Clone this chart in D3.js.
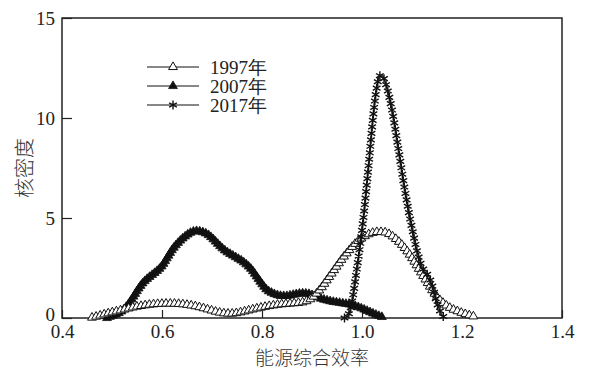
<!DOCTYPE html>
<html>
<head>
<meta charset="utf-8">
<script src="https://cdn.jsdelivr.net/npm/d3@7/dist/d3.min.js"></script>
<style>
  body { margin: 0; background: #fff; }
  svg { display: block; }
</style>
</head>
<body>
<div id="chart"></div>
<script>
// series data (kernel density of energy efficiency)
const x1997 = [0.46,0.47,0.48,0.49,0.50,0.51,0.52,0.53,0.54,0.55,0.56,0.57,0.58,0.59,0.60,0.61,0.62,0.63,0.64,0.65,0.66,0.67,0.68,0.69,0.70,0.71,0.72,0.73,0.74,0.75,0.76,0.77,0.78,0.79,0.80,0.81,0.82,0.83,0.84,0.85,0.86,0.87,0.88,0.89,0.90,0.91,0.92,0.93,0.94,0.95,0.96,0.97,0.98,0.99,1.00,1.01,1.02,1.03,1.04,1.05,1.06,1.07,1.08,1.09,1.10,1.11,1.12,1.13,1.14,1.15,1.16,1.17,1.18,1.19,1.20,1.21,1.22,1.23];
const y1997 = [0.02,0.08,0.15,0.22,0.28,0.34,0.40,0.46,0.52,0.57,0.61,0.65,0.68,0.70,0.71,0.72,0.72,0.71,0.69,0.66,0.62,0.57,0.51,0.44,0.37,0.30,0.25,0.22,0.22,0.25,0.30,0.36,0.42,0.48,0.53,0.58,0.62,0.66,0.69,0.71,0.73,0.75,0.78,0.85,1.00,1.25,1.55,1.90,2.25,2.60,2.95,3.25,3.55,3.80,4.00,4.15,4.25,4.30,4.30,4.25,4.10,3.90,3.65,3.35,3.00,2.60,2.20,1.80,1.40,1.05,0.80,0.60,0.45,0.35,0.25,0.17,0.10,0.04];

const x2007 = [0.49,0.50,0.51,0.52,0.53,0.54,0.55,0.56,0.57,0.58,0.59,0.60,0.61,0.62,0.63,0.64,0.65,0.66,0.67,0.68,0.69,0.70,0.71,0.72,0.73,0.74,0.75,0.76,0.77,0.78,0.79,0.80,0.81,0.82,0.83,0.84,0.85,0.86,0.87,0.88,0.89,0.90,0.91,0.92,0.93,0.94,0.95,0.96,0.97,0.98,0.99,1.00,1.01,1.02,1.03,1.04];
const y2007 = [0.00,0.10,0.20,0.35,0.60,0.95,1.35,1.70,1.95,2.15,2.35,2.60,3.00,3.40,3.70,3.95,4.15,4.30,4.35,4.30,4.20,4.00,3.75,3.50,3.30,3.15,3.00,2.85,2.65,2.40,2.05,1.70,1.40,1.25,1.15,1.10,1.10,1.15,1.20,1.23,1.22,1.15,1.05,0.95,0.88,0.82,0.78,0.74,0.70,0.65,0.57,0.47,0.36,0.25,0.14,0.05];

const x2017 = [0.965,0.970,0.975,0.980,0.985,0.990,0.995,1.000,1.005,1.010,1.015,1.020,1.025,1.030,1.035,1.040,1.045,1.050,1.055,1.060,1.065,1.070,1.075,1.080,1.085,1.090,1.095,1.100,1.105,1.110,1.115,1.120,1.125,1.130,1.135,1.140,1.145,1.150,1.155,1.160,1.165];
const y2017 = [0.00,0.05,0.30,0.80,1.60,2.50,3.40,4.40,5.50,6.80,8.10,9.50,10.70,11.60,12.10,12.15,11.90,11.50,11.00,10.40,9.70,8.90,8.10,7.30,6.50,5.80,5.10,4.50,3.90,3.35,2.90,2.55,2.35,2.20,2.00,1.65,1.20,0.75,0.40,0.15,0.02];

const seriesNames = ["1997年", "2007年", "2017年"];
const xTicks = [0.4, 0.6, 0.8, 1.0, 1.2, 1.4];
const yTicks = [0, 5, 10, 15];

const W = 589, H = 370;
const margin = {top: 18, right: 27, bottom: 52, left: 62};
const width = W - margin.left - margin.right;
const height = H - margin.top - margin.bottom;

const svg = d3.select("#chart").append("svg")
    .attr("width", W)
    .attr("height", H);

const g = svg.append("g")
    .attr("transform", "translate(" + margin.left + "," + margin.top + ")");

const x = d3.scaleLinear().domain([0.4, 1.4]).range([0, width]);
const y = d3.scaleLinear().domain([0, 15]).range([height, 0]);

const tickFont = "'Liberation Serif', 'Times New Roman', serif";
const cjkFont = "'Noto Sans CJK SC', 'Noto Sans', sans-serif";

// axes with inward ticks
const xAxis = d3.axisBottom(x).tickValues(xTicks).tickFormat(d3.format(".1f"))
    .tickSizeInner(-8).tickSizeOuter(0).tickPadding(7);
const yAxis = d3.axisLeft(y).tickValues(yTicks).tickFormat(d3.format("d"))
    .tickSizeInner(-10).tickSizeOuter(0).tickPadding(7);

const gx = g.append("g").attr("transform", "translate(0," + height + ")").call(xAxis);
const gy = g.append("g").call(yAxis);
[gx, gy].forEach(a => {
  a.select(".domain").remove();
  a.selectAll("line").attr("stroke", "#222").attr("stroke-width", 1.2);
  a.selectAll("text").attr("font-family", tickFont).attr("font-size", 19).attr("fill", "#222");
});
// the zero label sits a little above the corner
gy.selectAll("text").attr("dy", d => d === 0 ? "0.12em" : "0.32em");

// frame
g.append("rect")
    .attr("x", 0).attr("y", 0)
    .attr("width", width).attr("height", height)
    .attr("fill", "none")
    .attr("stroke", "#222")
    .attr("stroke-width", 1.5);

// axis titles
svg.append("text")
    .attr("x", margin.left + width / 2)
    .attr("y", 365)
    .attr("text-anchor", "middle")
    .attr("font-family", cjkFont)
    .attr("font-weight", 300)
    .attr("font-size", 19)
    .attr("fill", "#333")
    .text("能源综合效率");

svg.append("text")
    .attr("transform", "translate(32,168) rotate(-90)")
    .attr("text-anchor", "middle")
    .attr("font-family", cjkFont)
    .attr("font-weight", 300)
    .attr("font-size", 20)
    .attr("fill", "#333")
    .text("核密度");

const line = d3.line()
    .x(d => x(d[0]))
    .y(d => y(d[1]))
    .curve(d3.curveMonotoneX);

const triOpen = d3.symbol().type(d3.symbolTriangle).size(34);
const triFill = d3.symbol().type(d3.symbolTriangle).size(34);
const star = d3.symbol().type(d3.symbolAsterisk).size(55);

const plot = g.append("g");

function drawSeries(xs, ys, spacing, sym, fill, sw) {
  const pts = xs.map((v, i) => [v, ys[i]]);
  const path = plot.append("path")
      .datum(pts)
      .attr("d", line)
      .attr("fill", "none")
      .attr("stroke", "#111")
      .attr("stroke-width", 1.2);
  const node = path.node();
  const len = node.getTotalLength();
  const marks = d3.range(0, len + 0.01, spacing).map(l => node.getPointAtLength(l));
  plot.append("g").selectAll("path")
      .data(marks)
      .join("path")
      .attr("transform", p => "translate(" + p.x + "," + p.y + ")")
      .attr("d", sym)
      .attr("fill", fill)
      .attr("stroke", "#111")
      .attr("stroke-width", sw);
}

drawSeries(x2007, y2007, 3.2, triFill, "#111", 0.8);
drawSeries(x1997, y1997, 4.2, triOpen, "#fff", 1);
drawSeries(x2017, y2017, 6.5, star, "none", 1.4);

// legend
const legendSyms = [[triOpen, "#fff", 1], [triFill, "#111", 0.8], [star, "none", 1.4]];
const leg = svg.append("g");
seriesNames.forEach((name, i) => {
  const ly = 67 + i * 19;
  leg.append("line")
      .attr("x1", 147).attr("x2", 199)
      .attr("y1", ly).attr("y2", ly)
      .attr("stroke", "#111").attr("stroke-width", 1.2);
  leg.append("path")
      .attr("transform", "translate(173," + ly + ")")
      .attr("d", legendSyms[i][0])
      .attr("fill", legendSyms[i][1])
      .attr("stroke", "#111")
      .attr("stroke-width", legendSyms[i][2]);
  leg.append("text")
      .attr("x", 210).attr("y", ly)
      .attr("dy", "0.35em")
      .attr("font-family", tickFont)
      .attr("font-size", 19)
      .attr("fill", "#222")
      .text(name);
});
</script>
</body>
</html>
